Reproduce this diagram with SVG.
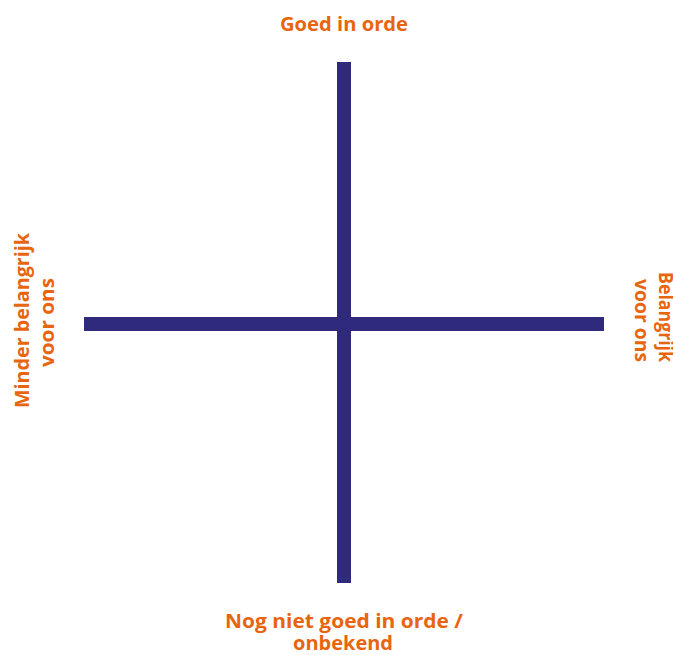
<svg xmlns="http://www.w3.org/2000/svg" width="673" height="655" viewBox="0 0 673 655">
<style>
.lbl{font-family:"Open Sans","Liberation Sans",sans-serif;font-weight:bold;font-size:19px;fill:#e8650f}
.axis{fill:#2f2a7b}
</style>
<rect width="673" height="655" fill="#ffffff"/>
<g id="axes">
<rect id="vertical-axis" class="axis" x="337" y="62" width="14" height="521"/>
<rect id="horizontal-axis" class="axis" x="84" y="317" width="520" height="14"/>
</g>
<g id="top-label"><text class="lbl" x="344" y="31" text-anchor="middle" textLength="128" lengthAdjust="spacingAndGlyphs">Goed in orde</text></g>
<g id="bottom-label">
<text class="lbl" x="344" y="628" text-anchor="middle" textLength="238" lengthAdjust="spacingAndGlyphs">Nog niet goed in orde /</text>
<text class="lbl" x="343" y="650" text-anchor="middle" textLength="100" lengthAdjust="spacingAndGlyphs">onbekend</text>
</g>
<g id="left-label">
<text class="lbl" transform="translate(29,320.5) rotate(-90)" text-anchor="middle" textLength="175" lengthAdjust="spacingAndGlyphs">Minder belangrijk</text>
<text class="lbl" transform="translate(54,322.5) rotate(-90)" text-anchor="middle" textLength="89" lengthAdjust="spacingAndGlyphs">voor ons</text>
</g>
<g id="right-label">
<text class="lbl" transform="translate(659,362) rotate(90)" text-anchor="end" textLength="90" lengthAdjust="spacingAndGlyphs">Belangrijk</text>
<text class="lbl" transform="translate(635,362) rotate(90)" text-anchor="end" textLength="83" lengthAdjust="spacingAndGlyphs">voor ons</text>
</g>
</svg>
